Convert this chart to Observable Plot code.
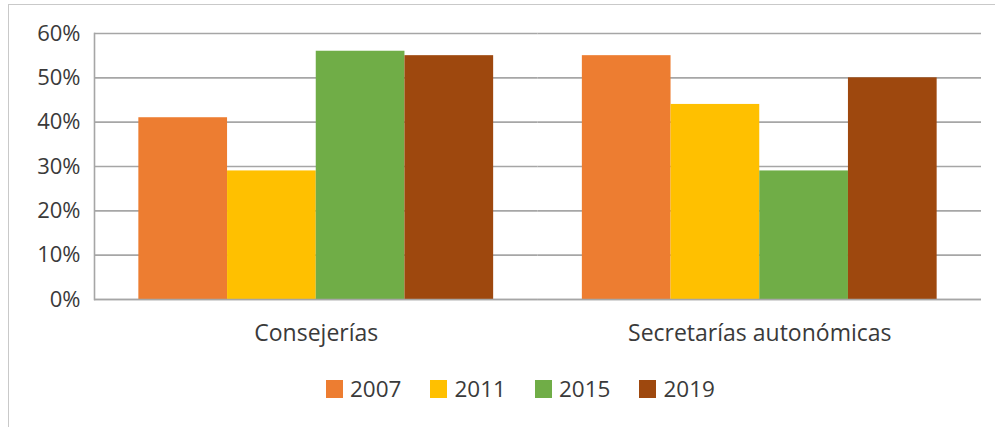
<!DOCTYPE html>
<html>
<head>
<meta charset="utf-8">
<script src="https://cdn.jsdelivr.net/npm/d3@7"></script>
<script src="https://cdn.jsdelivr.net/npm/@observablehq/plot@0.6"></script>
<style>
  html, body { margin: 0; padding: 0; background: #fff; }
  body { width: 995px; height: 427px; position: relative; overflow: hidden; font-family: "Open Sans", sans-serif; }
  #frame { position: absolute; left: 8px; top: 4px; width: 1100px; height: 600px; border-top: 1.5px solid #c9c9c9; border-left: 1.5px solid #c9c9c9; box-sizing: border-box; }
  #chart { position: absolute; left: 0; top: 0; }
  #legend { position: absolute; top: 377px; left: 326px; display: flex; gap: 0; font-size: 22.5px; color: #3a3a3a; line-height: 24px; }
  .item { display: flex; align-items: center; margin-right: 29px; }
  .sw { width: 17px; height: 18px; margin-right: 7px; }
</style>
</head>
<body>
<div id="frame"></div>
<div id="chart"></div>
<div id="legend"></div>
<script>
const categories = ["Consejerías", "Secretarías autonómicas"];
const years = ["2007", "2011", "2015", "2019"];
const consejerias = [0.41, 0.29, 0.56, 0.55];
const secretarias = [0.55, 0.44, 0.29, 0.50];
const colors = ["#ED7D31", "#FFC000", "#70AD47", "#9E480E"];
const yTicks = [0, 0.1, 0.2, 0.3, 0.4, 0.5, 0.6];

const series = [consejerias, secretarias];
const data = categories.flatMap((c, i) => years.map((y, j) => ({cat: c, year: y, value: series[i][j]})));

const gridColor = "#a6a6a6";

const chart = Plot.plot({
  width: 995,
  height: 350,
  marginLeft: 94,
  marginRight: 14,
  marginTop: 33,
  marginBottom: 51,
  style: {fontFamily: "Open Sans", fontSize: "22px", color: "#3a3a3a", background: "transparent"},
  fx: {domain: categories, padding: 0, label: null, round: false},
  x: {domain: years, paddingInner: 0, paddingOuter: 0.5, axis: null, round: false},
  y: {domain: [0, 0.6], label: null},
  color: {domain: years, range: colors},
  marks: [
    Plot.gridY(yTicks, {stroke: gridColor, strokeOpacity: 1, strokeWidth: 1.6}),
    Plot.frame({anchor: "left", facetAnchor: "left", stroke: gridColor, strokeWidth: 1.6}),
    Plot.barY(data, {fx: "cat", x: "year", y: "value", fill: "year"}),
    Plot.ruleY([0], {stroke: gridColor, strokeWidth: 1.6}),
    Plot.axisY(yTicks, {tickSize: 0, tickPadding: 14, tickFormat: d3.format(".0%"), label: null, fontSize: 22}),
    Plot.axisFx({anchor: "bottom", tickSize: 0, tickPadding: 25, label: null, fontSize: 23})
  ]
});
document.getElementById("chart").appendChild(chart);

const legend = document.getElementById("legend");
years.forEach((y, i) => {
  const item = document.createElement("div");
  item.className = "item";
  const sw = document.createElement("div");
  sw.className = "sw";
  sw.style.background = colors[i];
  const t = document.createElement("span");
  t.textContent = y;
  item.appendChild(sw);
  item.appendChild(t);
  legend.appendChild(item);
});
</script>
</body>
</html>
